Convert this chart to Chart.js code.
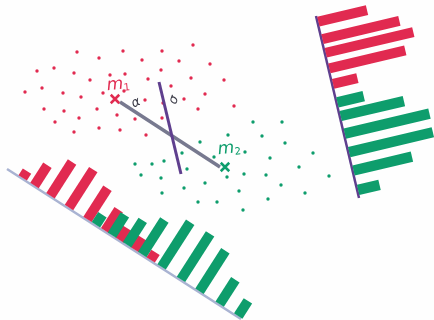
<!DOCTYPE html>
<html>
<head>
<meta charset="utf-8">
<script src="https://cdn.jsdelivr.net/npm/chart.js@4/dist/chart.umd.min.js"></script>
<style>
  html, body { margin: 0; padding: 0; background: #fefefe; }
  canvas { display: block; }
</style>
</head>
<body>
<canvas id="chart" width="434" height="320"></canvas>
<script>
const redPointsX = [77, 123, 162, 193, 99, 142, 179, 210, 37, 54, 74, 110, 125, 161, 90, 148, 191, 25, 42, 63, 81, 103, 124, 171, 205, 145, 184, 44, 64, 97, 163, 198, 79, 117, 135, 162, 55, 99, 120, 74, 146, 224, 234];
const redPointsY = [52, 51, 51, 45, 58, 60, 61, 64, 71, 68, 73, 75, 74, 70, 80, 79, 78, 92, 88, 93, 97, 93, 91, 86, 94, 100, 99, 109, 111, 109, 103, 109, 118, 115, 119, 118, 122, 128, 130, 132, 135, 80, 106];
const greenPointsX = [253, 282, 228, 262, 285, 245, 270, 313, 299, 244, 266, 227, 329, 281, 239, 305, 268, 200, 182, 214, 135, 152, 164, 187, 141, 161, 205, 162, 184, 198, 217, 243];
const greenPointsY = [122, 122, 135, 136, 143, 152, 158, 153, 167, 174, 175, 177, 176, 185, 191, 193, 199, 142, 153, 157, 164, 164, 161, 169, 175, 178, 183, 193, 188, 202, 202, 210];

// histogram under the cloud: distance along its axis, bar length
const lowerRedBins = [18, 32, 51, 73, 95, 116, 133, 151, 170];
const lowerRedCounts = [8, 24, 40, 45, 37, 25, 14, 14, 9];
const lowerGreenBins = [105, 124, 142, 160, 183, 206, 228, 252, 274];
const lowerGreenCounts = [12, 24, 29, 41, 53, 54, 48, 29, 18];

// histogram on the right
const rightRedBins = [6, 24, 38, 54, 70];
const rightRedCounts = [50, 79, 90, 78, 25];
const rightGreenBins = [89, 103, 121, 140, 159, 179];
const rightGreenCounts = [27, 65, 87, 86, 60, 22];

const RED = "#e12a50";
const GREEN = "#0e9d6c";
const PURPLE = "#5f3f8e";
const GRAY = "#77798f";

const lowerAxis = [{ x: 7, y: 169 }, { x: 241, y: 319 }];
const rightAxis = [{ x: 316, y: 16 }, { x: 359, y: 198 }];
const lineA = [{ x: 120, y: 102 }, { x: 220, y: 167 }];
const lineB = [{ x: 159, y: 82 }, { x: 181, y: 174 }];

const zip = (xs, ys) => xs.map((x, i) => ({ x, y: ys[i] }));

const lineSet = (data, color, width) => ({
  type: "line",
  data,
  showLine: true,
  borderColor: color,
  borderWidth: width,
  borderCapStyle: "butt",
  pointRadius: 0,
  fill: false,
});

// one dataset per bar, standing square on the tilted axis
const barSets = (axis, bins, counts, color, width) => {
  const dx = axis[1].x - axis[0].x;
  const dy = axis[1].y - axis[0].y;
  const len = Math.hypot(dx, dy);
  const ux = dx / len;
  const uy = dy / len;
  return bins.map((t, i) => {
    const bx = axis[0].x + ux * t + uy;
    const by = axis[0].y + uy * t - ux;
    return lineSet(
      [
        { x: bx, y: by },
        { x: bx + uy * counts[i], y: by - ux * counts[i] },
      ],
      color,
      width
    );
  });
};

const pointSet = (xs, ys, color) => ({
  type: "scatter",
  data: zip(xs, ys),
  pointRadius: 1.7,
  pointBackgroundColor: color,
  pointBorderWidth: 0,
});

const crossSet = (x, y, color) => ({
  type: "scatter",
  data: [{ x, y }],
  pointStyle: "crossRot",
  pointRadius: 6,
  pointBorderColor: color,
  pointBorderWidth: 2.5,
});

const labels = [
  { text: "m", sub: "1", x: 115, y: 85, angle: -6, color: RED, size: 17 },
  { text: "m", sub: "2", x: 226, y: 149, angle: -6, color: GREEN, size: 17 },
  { text: "α", x: 136, y: 103, angle: -25, color: "#3c3c48", size: 13 },
  { text: "σ", x: 174, y: 100, angle: -70, color: "#3c3c48", size: 13 },
];

const textPlugin = {
  id: "handLabels",
  afterDatasetsDraw(chart) {
    const { ctx, scales } = chart;
    labels.forEach((l) => {
      ctx.save();
      ctx.translate(scales.x.getPixelForValue(l.x), scales.y.getPixelForValue(l.y));
      ctx.rotate((l.angle * Math.PI) / 180);
      ctx.fillStyle = l.color;
      ctx.textAlign = "center";
      ctx.textBaseline = "middle";
      ctx.font = `italic ${l.size}px "DejaVu Sans"`;
      ctx.fillText(l.text, 0, 0);
      if (l.sub) {
        ctx.font = `${l.size - 7}px "DejaVu Sans"`;
        ctx.fillText(l.sub, l.size * 0.68, 4);
      }
      ctx.restore();
    });
  },
};

// chart.js paints the first dataset last, so the topmost marks go first
const datasets = [
  crossSet(115, 99, RED),
  crossSet(225, 167, GREEN),
  lineSet(lineB, PURPLE, 3),
  lineSet(lineA, GRAY, 3.5),
  pointSet(redPointsX, redPointsY, RED),
  pointSet(greenPointsX, greenPointsY, GREEN),
  ...barSets(rightAxis, rightRedBins, rightRedCounts, RED, 10),
  ...barSets(rightAxis, rightGreenBins, rightGreenCounts, GREEN, 10.5),
  lineSet(rightAxis, PURPLE, 2.5),
  ...barSets(lowerAxis, lowerGreenBins, lowerGreenCounts, GREEN, 10),
  ...barSets(lowerAxis, lowerRedBins, lowerRedCounts, RED, 10),
  lineSet(lowerAxis, "#a9b3d2", 2.5),
];

new Chart(document.getElementById("chart"), {
  type: "scatter",
  data: { datasets },
  options: {
    responsive: false,
    animation: false,
    layout: { padding: 0, autoPadding: false },
    plugins: { legend: { display: false }, tooltip: { enabled: false } },
    scales: {
      x: { type: "linear", min: 0, max: 434, display: false },
      y: { type: "linear", min: 0, max: 320, reverse: true, display: false },
    },
  },
  plugins: [textPlugin],
});
</script>
</body>
</html>
